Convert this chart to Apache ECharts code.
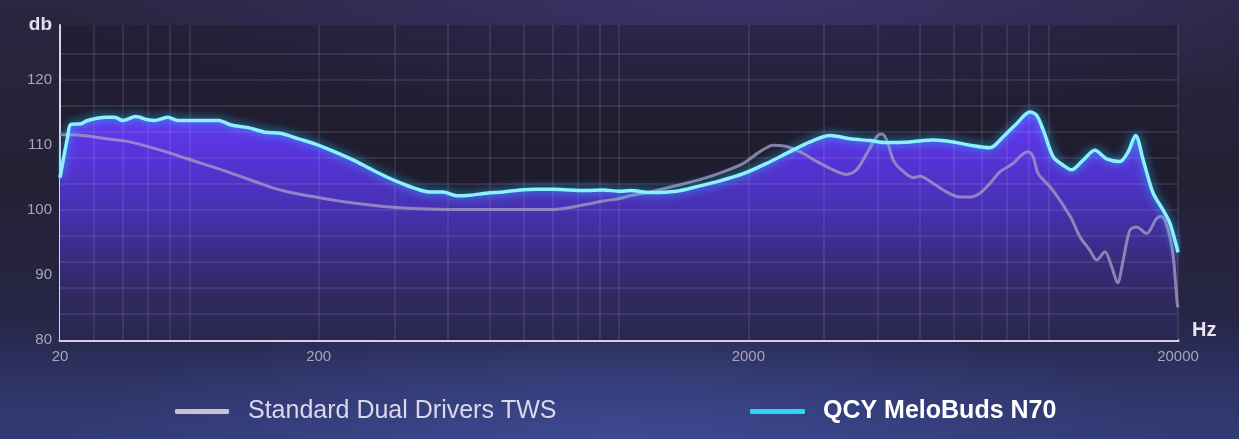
<!DOCTYPE html>
<html><head><meta charset="utf-8">
<script src="https://cdn.jsdelivr.net/npm/echarts@6/dist/echarts.min.js"></script>
<style>
html,body{margin:0;padding:0;width:1239px;height:439px;overflow:hidden;}
body{background:
 radial-gradient(ellipse 55% 28% at 60% 0%, rgba(75,60,140,0.55), rgba(0,0,0,0)),
 radial-gradient(ellipse 45% 30% at 50% 100%, rgba(70,85,170,0.55), rgba(0,0,0,0)),
 linear-gradient(to bottom, #2a2641 0%, #242134 40%, #262545 72%, #2e3466 88%, #323b74 100%);}
#chart{width:1239px;height:439px;}
</style></head><body><div id="chart"></div>
<script>
// Frequency axis (the left end is labelled "20" in the reference)
const xTickValues = [50, 200, 2000, 20000];
const xTickLabels = ['20', '200', '2000', '20000'];
const xGridValues = [60,70,80,90,100,200,300,400,500,600,700,800,900,1000,2000,3000,4000,5000,6000,7000,8000,9000,10000,20000];
const yGridValues = [84,88,92,96,100,104,108,112,116,120,124];

const n70Freq = [50,52,53,56,58,64,67,70,75,80,83,89,94,101,109,117,125,137,150,164,179,196,214,241,263,288,315,344,363,390,419,450,492,538,588,643,703,769,841,919,1005,1061,1181,1362,1516,1718,1947,2207,2500,2783,3097,3447,3837,4196,4754,5386,5995,6556,7300,7838,8419,9044,9375,9716,10250,10810,11305,12030,12810,13645,14650,15315,15935,16595,17505,18470,19150,19850,20000];
const n70Db = [105,111,113.2,113.3,113.8,114.3,114.3,113.8,114.4,113.9,113.8,114.3,113.8,113.8,113.8,113.8,113.1,112.7,112.0,111.8,111.0,110.2,109.2,107.7,106.4,105.1,104.0,103.1,102.8,102.8,102.2,102.3,102.6,102.8,103.1,103.2,103.2,103.1,103.0,103.1,102.9,103.0,102.7,102.9,103.6,104.5,105.6,107.2,109.0,110.5,111.5,111.0,110.7,110.4,110.5,110.8,110.5,110.0,109.6,111.3,113.3,115.1,114.6,112.3,108.2,106.9,106.2,107.7,109.2,107.9,107.5,109.0,111.5,107.7,102.6,100.0,98.0,94.4,93.5];

const stdFreq = [50,53,58,64,70,76,83,91,99,109,119,130,142,155,170,186,201,218,241,263,288,344,411,492,588,703,769,841,919,1005,1061,1181,1362,1542,1749,1947,2129,2286,2455,2637,2884,3153,3386,3573,3771,3979,4087,4196,4349,4508,4838,5016,5386,5785,6215,6556,6918,7300,7701,8270,8650,8961,9204,9457,10070,10625,11108,11305,11826,12473,12932,13520,14015,14470,14910,15455,16020,16905,17835,18315,18980,19495,19920,20000];
const stdDb = [111.6,111.6,111.4,111.0,110.7,110.2,109.5,108.7,107.9,107.0,106.2,105.3,104.4,103.5,102.8,102.3,101.9,101.5,101.1,100.8,100.5,100.2,100.1,100.1,100.1,100.1,100.4,100.9,101.4,101.8,102.2,102.8,103.8,104.7,105.9,107.2,109.0,110.0,109.8,109.0,107.5,106.2,105.5,106.2,108.7,111.3,111.7,110.8,107.7,106.4,105.0,105.2,104.1,102.8,102.0,102.0,102.6,104.1,105.9,107.2,108.5,109.0,108.2,105.6,103.6,101.5,99.5,98.7,95.9,93.8,92.3,93.6,91.3,88.8,92.3,96.9,97.4,96.4,98.7,99.0,96.9,92.8,85.6,85.0];

const n70Name = 'QCY MeloBuds N70';
const stdName = 'Standard Dual Drivers TWS';

const pair = (xs, ys) => xs.map((x, i) => [x, ys[i]]);
const FONT = '"Liberation Sans", Arial, sans-serif';

function xLabel(v) {
  for (let i = 0; i < xTickValues.length; i++) {
    if (Math.abs(Math.log10(v) - Math.log10(xTickValues[i])) < 0.01) return xTickLabels[i];
  }
  return '';
}

const gridMarks = xGridValues.map(v => ({ xAxis: v })).concat(yGridValues.map(v => ({ yAxis: v })));

const chart = echarts.init(document.getElementById('chart'), null, { renderer: 'canvas' });
chart.setOption({
  animation: false,
  backgroundColor: 'transparent',
  textStyle: { fontFamily: FONT },
  grid: { left: 60, right: 61, top: 25, bottom: 99, show: true, backgroundColor: 'rgba(22,19,34,0.35)', borderWidth: 0 },
  legend: [
    { left: 170, top: 394, itemWidth: 54, itemHeight: 5, icon: 'roundRect', selectedMode: false,
      data: [{ name: stdName, itemStyle: { color: '#c6c1d6' } }],
      textStyle: { color: '#dcd8ea', fontSize: 25, fontFamily: FONT, padding: [0, 0, 0, 14] } },
    { left: 745, top: 394, itemWidth: 55, itemHeight: 5, icon: 'roundRect', selectedMode: false,
      data: [{ name: n70Name, itemStyle: { color: '#2ad6f0' } }],
      textStyle: { color: '#ffffff', fontSize: 25, fontWeight: 'bold', fontFamily: FONT, padding: [0, 0, 0, 13] } }
  ],
  xAxis: {
    type: 'log', logBase: 10, min: 50, max: 20000,
    axisLine: { show: true, lineStyle: { color: '#d4cfe5', width: 3 } },
    axisTick: { show: false },
    splitLine: { show: false },
    minorSplitLine: { show: false },
    axisLabel: { customValues: xTickValues, formatter: xLabel, color: '#a9a4bb', fontSize: 15, margin: 9, fontFamily: FONT },
    name: 'Hz', nameLocation: 'end', nameGap: 14,
    nameTextStyle: { color: '#e8e4f2', fontSize: 20, fontWeight: 'bold', verticalAlign: 'bottom', fontFamily: FONT }
  },
  yAxis: {
    type: 'value', min: 80, max: 128.5, interval: 10,
    axisLine: { show: true, lineStyle: { color: '#d8d4e8', width: 2 } },
    axisTick: { show: false },
    splitLine: { show: false },
    axisLabel: { color: '#a9a4bb', fontSize: 15, margin: 8, fontFamily: FONT,
      formatter: v => (v % 10 === 0 && v <= 120) ? String(v) : '' },
    name: 'db', nameLocation: 'end', nameGap: 0,
    nameTextStyle: { color: '#e2deee', fontSize: 19, fontWeight: 'bold', align: 'right', verticalAlign: 'middle', padding: [0, 8, 0, 0], fontFamily: FONT }
  },
  series: [
    {
      name: 'N70 fill', type: 'line', data: pair(n70Freq, n70Db), smooth: 0.3, showSymbol: false, silent: true, z: 1,
      lineStyle: { width: 0 },
      areaStyle: { origin: 'start', opacity: 1, color: new echarts.graphic.LinearGradient(0, 0, 0, 1, [
        { offset: 0, color: '#6439f2' }, { offset: 0.2, color: '#5633d8' }, { offset: 0.42, color: '#4731b2' },
        { offset: 0.64, color: '#382c80' }, { offset: 0.85, color: '#2e295a' }, { offset: 1, color: '#2a2650' } ]) }
    },
    {
      name: stdName, type: 'line', data: pair(stdFreq, stdDb), smooth: 0.3, showSymbol: false, z: 3,
      itemStyle: { color: '#c6c1d6' },
      lineStyle: { color: 'rgba(165,155,195,0.78)', width: 3 },
      markLine: { silent: true, z: 2, symbol: ['none', 'none'], label: { show: false }, animation: false,
        lineStyle: { color: 'rgba(190,180,228,0.17)', width: 1.5, type: 'solid' }, emphasis: { disabled: true },
        data: gridMarks }
    },
    {
      name: n70Name, type: 'line', data: pair(n70Freq, n70Db), smooth: 0.3, showSymbol: false, z: 4,
      itemStyle: { color: '#2ad6f0' },
      lineStyle: { color: '#8cf0ff', width: 3.5, shadowBlur: 10, shadowColor: 'rgba(40,200,255,0.9)' }
    }
  ]
});
</script></body></html>
